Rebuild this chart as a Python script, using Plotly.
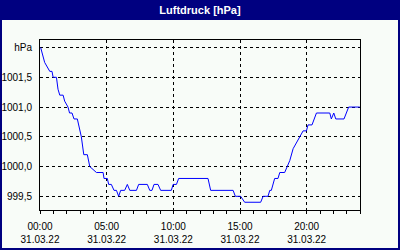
import plotly.graph_objects as go

DAY = "2022-03-31"
times = ["00:03", "00:21", "00:44", "00:54", "00:59", "01:14", "01:21", "01:29", "01:44", "01:51",
         "02:06", "02:13", "02:24", "02:33", "02:48", "02:58", "03:06", "03:17", "03:33", "03:44",
         "04:14", "04:44", "04:48", "05:03", "05:09", "05:21", "05:33", "05:44", "05:54", "06:03",
         "06:21", "06:33", "06:44", "07:14", "07:24", "08:03", "08:14", "08:24", "08:33", "08:51",
         "09:03", "09:51", "09:59", "10:14", "10:24", "12:36", "12:48", "14:29", "14:39", "15:03",
         "15:21", "16:33", "16:44", "17:06", "17:14", "17:21", "17:36", "17:51", "17:59", "18:21",
         "18:33", "18:44", "18:59", "19:14", "19:29", "19:44", "19:59", "20:06", "20:24", "20:44",
         "21:44", "21:51", "22:02", "22:11", "22:48", "23:09", "23:59"]
pressure = [1002.0, 1001.75, 1001.6, 1001.6, 1001.5, 1001.5, 1001.3, 1001.2, 1001.2, 1001.1,
            1001.0, 1000.9, 1000.9, 1000.8, 1000.8, 1000.65, 1000.5, 1000.2, 1000.2, 1000.0,
            999.9, 999.9, 999.8, 999.8, 999.7, 999.7, 999.6, 999.6, 999.5, 999.6,
            999.6, 999.7, 999.6, 999.6, 999.7, 999.7, 999.6, 999.6, 999.7, 999.7,
            999.6, 999.6, 999.7, 999.7, 999.8, 999.8, 999.6, 999.6, 999.5, 999.5,
            999.4, 999.4, 999.5, 999.5, 999.6, 999.6, 999.8, 999.8, 999.9, 999.9,
            1000.0, 1000.1, 1000.3, 1000.4, 1000.5, 1000.6, 1000.6, 1000.7, 1000.7, 1000.9,
            1000.9, 1000.8, 1000.9, 1000.8, 1000.8, 1001.0, 1001.0]

x_tick_times = ["00:00", "05:00", "10:00", "15:00", "20:00"]
x_tick_text = ["00:00<br>31.03.22", "05:00<br>31.03.22", "10:00<br>31.03.22",
               "15:00<br>31.03.22", "20:00<br>31.03.22"]
y_tick_vals = [999.5, 1000.0, 1000.5, 1001.0, 1001.5, 1002.0]
y_tick_text = ["999,5", "1000,0", "1000,5", "1001,0", "1001,5", "hPa"]

NAVY = "#000080"
BG = "#F8FCF8"
FONT = "Liberation Sans Narrow, Arial Narrow, Liberation Sans, sans-serif"

x = [f"{DAY} {t}" for t in times]

fig = go.Figure()
fig.add_trace(go.Scatter(x=x, y=pressure, mode="lines",
                         line=dict(color="#0000FF", width=1), showlegend=False))

W, H = 400, 250
L, R, T, B = 40, 40, 40, 40
pw, ph = W - L - R, H - T - B

def px_x(p):
    return (p - L) / pw

def px_y(p):
    return (H - B - p) / ph

shapes = [
    dict(type="rect", xref="paper", yref="paper", x0=px_x(0), x1=px_x(W),
         y0=px_y(20), y1=px_y(0), fillcolor=NAVY, line=dict(width=0), layer="below"),
    dict(type="rect", xref="paper", yref="paper", x0=px_x(1), x1=px_x(W - 1),
         y0=px_y(H - 1), y1=px_y(1), line=dict(color=NAVY, width=2), fillcolor="rgba(0,0,0,0)"),
]

fig.update_layout(
    width=W, height=H,
    margin=dict(l=L, r=R, t=T, b=B, autoexpand=False),
    paper_bgcolor=BG, plot_bgcolor=BG,
    font=dict(family=FONT, size=10, color="black"),
    title=dict(text="<b>Luftdruck [hPa]</b>", x=0.5, xanchor="center",
               y=1 - 10 / H, yanchor="middle", yref="container",
               font=dict(family="Liberation Sans, Arial, sans-serif", size=11, color="white")),
    shapes=shapes,
    xaxis=dict(
        type="date", automargin=False,
        range=[f"{DAY} 00:00", "2022-04-01 00:00"],
        tickvals=[f"{DAY} {t}" for t in x_tick_times],
        ticktext=x_tick_text,
        ticks="outside", ticklen=3, tickcolor="black",
        showline=True, linecolor="black", linewidth=1, mirror=True,
        showgrid=True, gridcolor="black", gridwidth=1, griddash="3px,3px",
        minor=dict(dtick=3600000, tick0=f"{DAY} 00:00", ticks="outside",
                   ticklen=3, tickcolor="black", showgrid=False),
        zeroline=False, tickangle=0, ticklabelstandoff=4,
    ),
    yaxis=dict(
        automargin=False,
        range=[999.27, 1002.127],
        tickvals=y_tick_vals, ticktext=y_tick_text,
        ticks="", showline=True, linecolor="black", linewidth=1, mirror=True,
        showgrid=True, gridcolor="black", gridwidth=1, griddash="3px,3px",
        zeroline=False, ticklabelstandoff=5,
    ),
)

fig.write_html("out.html")
